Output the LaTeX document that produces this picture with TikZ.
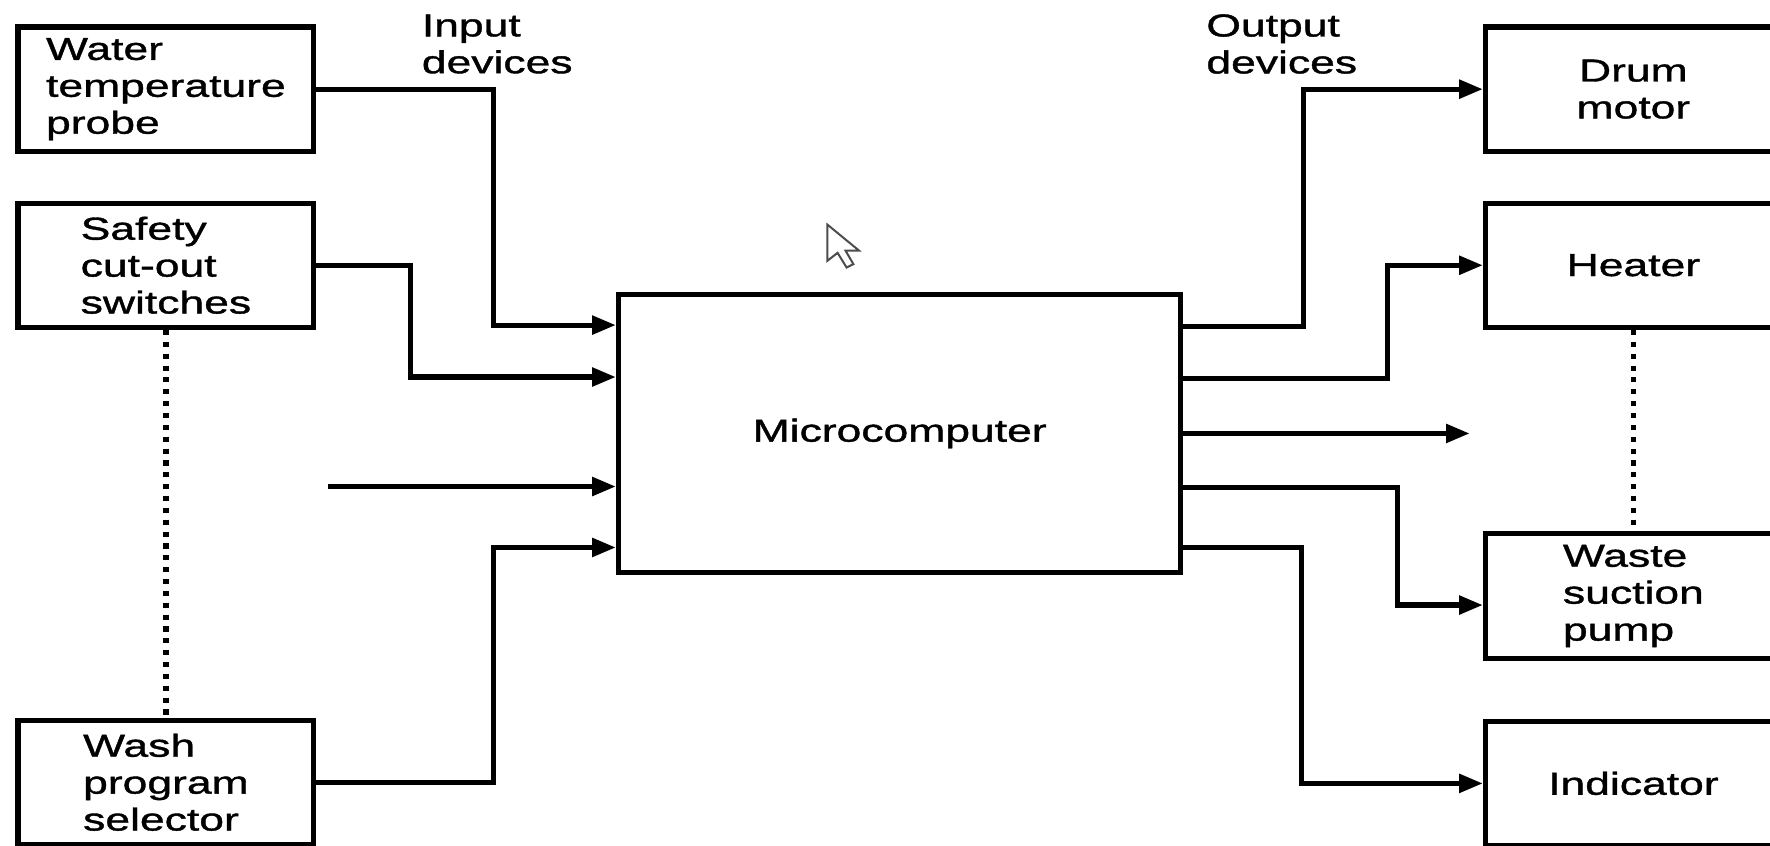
\documentclass[tikz,border=0pt]{standalone}
\usepackage{fontspec}
\newfontfamily\lbl[FakeStretch=1.40,FakeBold=1.2]{Liberation Sans}
\usetikzlibrary{arrows.meta}
\tikzset{
  box/.style={draw, line width=1.3pt, minimum width=2.62cm, minimum height=1.1cm, inner sep=0pt, font=\lbl\fontsize{8}{9.3}\selectfont},
  lbox/.style={box, align=left},
  cbox/.style={box, align=center},
  lab/.style={inner sep=0pt, align=left, font=\lbl\fontsize{8}{9.3}\selectfont},
  wire/.style={line width=1.3pt},
  arr/.style={wire, -{Triangle[length=0.21cm,width=0.16cm]}},
  dots/.style={line width=1.4pt, dash pattern=on 0.045cm off 0.06cm}
}
\begin{document}
\begin{tikzpicture}[x=0.01cm, y=-0.01cm]
\useasboundingbox (0,0) rectangle (1568,749);
\clip (0,0) rectangle (1568,749);
\fill[white] (0,0) rectangle (1568,749);

% left input boxes
\node[lbox] (water) at (147,79) {Water\\temperature\\probe};
\node[lbox] (safety) at (147,235) {Safety\\cut-out\\switches};
\node[lbox] (wash) at (147,693) {Wash\\program\\selector};

% labels
\node[lab, anchor=west] (inlab) at (373,39) {Input\\devices};
\node[lab, anchor=west] (outlab) at (1068,39) {Output\\devices};

% central box
\node[box, minimum width=4.98cm, minimum height=2.46cm] (micro) at (797,384) {Microcomputer};

% right output boxes
\node[cbox] (drum) at (1447,79) {Drum\\motor};
\node[cbox] (heater) at (1447,235) {Heater};
\node[lbox] (waste) at (1447,528) {Waste\\suction\\pump};
\node[cbox] (ind) at (1447,694) {Indicator};

% free ends
\coordinate (fin) at (291,431);
\coordinate (fout) at (1302,384);

% inputs
\draw[arr] (water.east) -| (437,288) -- (micro.west |- 437,288);
\draw[arr] (safety.east) -| (364,334) -- (micro.west |- 364,334);
\draw[arr] (fin) -- (micro.west |- fin);
\draw[arr] (wash.east) -| (437,485) -- (micro.west |- 437,485);

% outputs
\draw[arr] (micro.east |- 0,289) -| (1155,79) -- (drum.west);
\draw[arr] (micro.east |- 0,335) -| (1229,235) -- (heater.west);
\draw[arr] (micro.east |- fout) -- (fout);
\draw[arr] (micro.east |- 0,432) -| (1238,536) -- (waste.west |- 0,536);
\draw[arr] (micro.east |- 0,485) -| (1153,694) -- (ind.west);

% dotted links
\draw[dots] (safety.south) -- (wash.north);
\draw[dots] (heater.south) -- (waste.north);

% mouse pointer
\draw[line width=0.5pt, fill=white, draw=black!70]
  (733,199) -- (733,231) -- (742,224) -- (750,237) -- (756,234) -- (749,222) -- (761,222) -- cycle;
\end{tikzpicture}
\end{document}
